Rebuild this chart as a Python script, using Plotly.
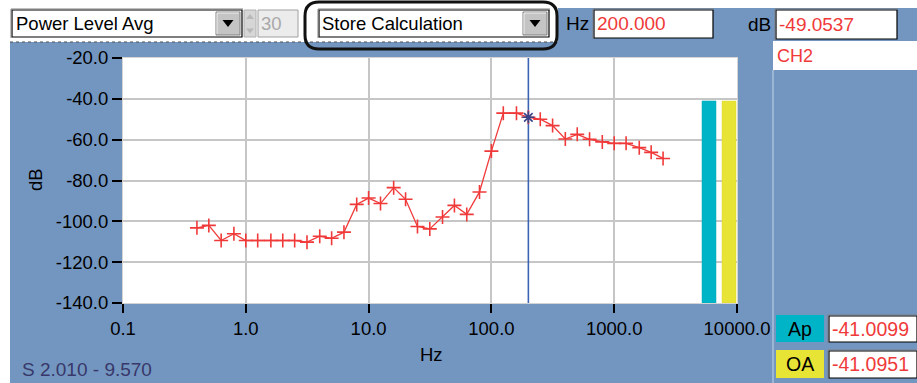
import plotly.graph_objects as go

# 1/3-octave band centre frequencies (Hz) and measured power level (dB)
freq_hz = [0.4, 0.5, 0.63, 0.8, 1, 1.25, 1.6, 2, 2.5, 3.15, 4, 5, 6.3, 8, 10,
           12.5, 16, 20, 25, 31.5, 40, 50, 63, 80, 100, 125, 160, 200, 250,
           315, 400, 500, 630, 800, 1000, 1250, 1600, 2000, 2500]
level_db = [-103.2, -102.0, -109.4, -106.1, -109.4, -109.4, -109.4, -109.4,
            -109.4, -110.2, -107.3, -108.3, -105.3, -91.7, -88.6, -91.3,
            -83.5, -89.2, -102.5, -103.7, -97.9, -92.2, -96.6, -85.6, -65.6,
            -47.0, -47.0, -49.0537, -50.0, -53.1, -59.7, -57.4, -59.8, -61.1,
            -61.8, -61.8, -63.9, -66.2, -69.2]

cursor_hz = 200.0
cursor_db = -49.0537
ap_db = -41.0099
oa_db = -41.0951

x_tickvals = [0.1, 1, 10, 100, 1000, 10000]
x_ticktext = ["0.1", "1.0", "10.0", "100.0", "1000.0", "10000.0"]
y_tickvals = [-20, -40, -60, -80, -100, -120, -140]
y_ticktext = ["-20.0", "-40.0", "-60.0", "-80.0", "-100.0", "-120.0", "-140.0"]

W, H = 917, 383
L, T, PW, PH = 123, 58, 614, 245

PANEL = "#7396c0"
RED = "#f03a3a"
FONT = "Liberation Sans, Arial, sans-serif"


def fx(x):
    return (x - L) / PW


def fy(y):
    return (T + PH - y) / PH


shapes = []


def rect(x0, y0, x1, y1, fill, line="rgba(0,0,0,0)", width=0, dash="solid"):
    shapes.append(dict(type="rect", xref="paper", yref="paper",
                       x0=fx(x0), x1=fx(x1), y0=fy(y1), y1=fy(y0),
                       fillcolor=fill, line=dict(color=line, width=width, dash=dash),
                       layer="below"))


def seg(x0, y0, x1, y1, color, width=1, dash="solid"):
    shapes.append(dict(type="line", xref="paper", yref="paper",
                       x0=fx(x0), x1=fx(x1), y0=fy(y0), y1=fy(y1),
                       line=dict(color=color, width=width, dash=dash)))


def tri(cx, cy, w, h, color="#000000"):
    p = (f"M {fx(cx - w / 2)},{fy(cy - h / 2)} L {fx(cx + w / 2)},{fy(cy - h / 2)} "
         f"L {fx(cx)},{fy(cy + h / 2)} Z")
    shapes.append(dict(type="path", xref="paper", yref="paper", path=p,
                       fillcolor=color, line=dict(color=color, width=0)))


def sunken_box(x0, y0, x1, y1, fill="#ffffff"):
    rect(x0, y0, x1, y1, fill, "#000000", 1.2)
    seg(x0 - 1, y0 - 1, x1 + 1, y0 - 1, "#808080", 1)
    seg(x0 - 1, y0 - 1, x0 - 1, y1 + 1, "#808080", 1)


def button(x0, y0, x1, y1):
    rect(x0, y0, x1, y1, "#c4c4c4", "#808080", 1)
    seg(x0 + 1, y0 + 1, x1 - 1, y0 + 1, "#f0f0f0", 1)
    seg(x0 + 1, y0 + 1, x0 + 1, y1 - 1, "#f0f0f0", 1)
    tri((x0 + x1) / 2, (y0 + y1) / 2, 11, 7)


def rounded(x0, y0, x1, y1, r, color, width):
    rx, ry = r / PW, r / PH
    a, b, c, d = fx(x0), fx(x1), fy(y1), fy(y0)
    p = (f"M {a + rx},{d} L {b - rx},{d} Q {b},{d} {b},{d - ry} "
         f"L {b},{c + ry} Q {b},{c} {b - rx},{c} L {a + rx},{c} "
         f"Q {a},{c} {a},{c + ry} L {a},{d - ry} Q {a},{d} {a + rx},{d} Z")
    shapes.append(dict(type="path", xref="paper", yref="paper", path=p,
                       line=dict(color=color, width=width)))


# white surround and toolbar strip
rect(0, 0, 10, H, "#ffffff")
rect(0, 0, 558, 42, "#ffffff")
rect(0, 0, W, 8, "#ffffff")
seg(10, 42, 556, 42, "#505050", 1, "dot")

# right-hand info column
seg(773, 70, 773, H, "#a9c0dc", 1.5)
rect(773, 41, W, 70, "#ffffff")

# level bars next to the spectrum
shapes.append(dict(type="rect", xref="paper", yref="y", x0=fx(702), x1=fx(716),
                   y0=-140, y1=ap_db, fillcolor="#00b4c8",
                   line=dict(color="#00aabb", width=0.5)))
shapes.append(dict(type="rect", xref="paper", yref="y", x0=fx(722), x1=fx(736),
                   y0=-140, y1=oa_db, fillcolor="#e8e436",
                   line=dict(color="#d8d430", width=0.5)))

# toolbar controls
sunken_box(12, 10, 242, 37)
button(216, 12, 240, 35)
rect(244, 10, 256, 37, "#d6d6d6", "#b0b0b0", 1)
tri(250, 17, 8, 5, "#b8b8b8")
shapes[-1]["path"] = (f"M {fx(246)},{fy(19)} L {fx(254)},{fy(19)} L {fx(250)},{fy(14)} Z")
tri(250, 31, 8, 5, "#b8b8b8")
rect(258, 10, 298, 37, "#ececec", "#a0a0a0", 1)
sunken_box(319, 10, 549, 37)
button(523, 12, 547, 35)
rounded(305, 2, 557, 49, 14, "#111111", 3)
sunken_box(594, 10, 713, 38)
sunken_box(776, 10, 897, 39)

# Ap / OA readouts
rect(776, 315, 824, 342, "#00b4c8")
sunken_box(829, 316, 917, 342)
rect(776, 350, 824, 378, "#e8e436")
sunken_box(829, 351, 917, 378)

annotations = []


def label(x, y, text, color="#000000", size=18, xanchor="left", angle=0):
    annotations.append(dict(x=fx(x), y=fy(y), xref="paper", yref="paper",
                            text=text, showarrow=False, xanchor=xanchor,
                            yanchor="middle", textangle=angle,
                            font=dict(family=FONT, size=size, color=color)))


label(14, 24, "Power Level Avg", size=18.5)
label(259, 24, "30", "#a8a8a8", 18.5)
label(320, 24, "Store Calculation", size=18.5)
label(564, 24, "Hz", size=19)
label(595, 24, "200.000", RED, 19)
label(746, 25, "dB", size=19)
label(777, 25, f"{cursor_db:.4f}", RED, 19)
label(775, 56, "CH2", RED, 18)
label(800, 329, "Ap", size=19.5, xanchor="center")
label(830, 329, f"{ap_db:.4f}", RED, 19.5)
label(800, 364, "OA", size=19.5, xanchor="center")
label(830, 364, f"{oa_db:.4f}", RED, 19.5)
label(20, 369, "S 2.010 - 9.570", "#38386a", 19)
label(431, 354, "Hz", size=18.5, xanchor="center")
label(35, 180, "dB", size=18.5, xanchor="center", angle=-90)

fig = go.Figure()

# cursor line
fig.add_trace(go.Scatter(x=[cursor_hz, cursor_hz], y=[-140, -20], mode="lines",
                         line=dict(color="#3b64b4", width=1.6),
                         hoverinfo="skip", showlegend=False))

# spectrum
fig.add_trace(go.Scatter(x=freq_hz, y=level_db, mode="lines+markers",
                         line=dict(color=RED, width=1.3),
                         marker=dict(symbol="cross-thin", size=10,
                                     line=dict(color=RED, width=1.6)),
                         showlegend=False))

# cursor marker
fig.add_trace(go.Scatter(x=[cursor_hz], y=[cursor_db], mode="markers",
                         marker=dict(symbol="asterisk", size=10,
                                     line=dict(color="#3a4488", width=1.6)),
                         showlegend=False))

fig.update_layout(
    width=W, height=H, autosize=False,
    margin=dict(l=L, r=W - L - PW, t=T, b=H - T - PH),
    paper_bgcolor=PANEL, plot_bgcolor="#ffffff",
    font=dict(family=FONT, size=18, color="#000000"),
    shapes=shapes, annotations=annotations,
    xaxis=dict(type="log", range=[-1, 4], tickvals=x_tickvals,
               ticktext=x_ticktext, ticks="outside", ticklen=9, tickwidth=1.5,
               tickcolor="#000000", showgrid=True, gridcolor="#c6c6c6",
               gridwidth=2, showline=True, linecolor="#d4d4d4", linewidth=1,
               mirror=True, zeroline=False, tickfont=dict(size=18.5)),
    yaxis=dict(range=[-140, -20], tickvals=y_tickvals, ticktext=y_ticktext,
               ticks="outside", ticklen=10, tickwidth=1.5, tickcolor="#000000",
               showgrid=True, gridcolor="#c6c6c6", gridwidth=2,
               showline=True, linecolor="#d4d4d4", linewidth=1, mirror=True,
               zeroline=False, tickfont=dict(size=18.5)),
)

fig.write_html("out.html")
